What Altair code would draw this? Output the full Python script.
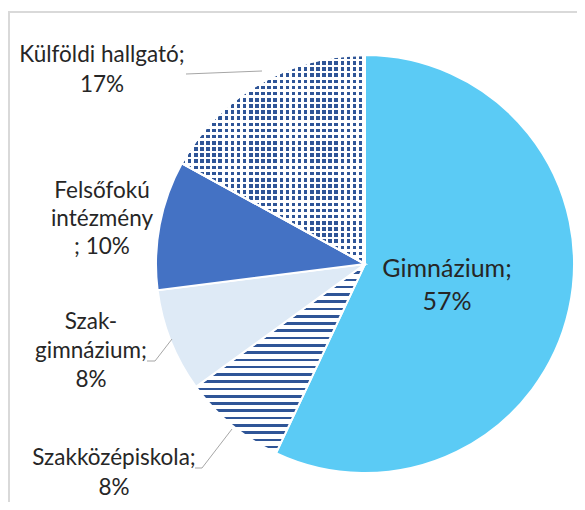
import altair as alt
import pandas as pd

# ---------------- data ----------------
categories = ["Gimnázium", "Szakközépiskola", "Szakgimnázium",
              "Felsőfokú intézmény", "Külföldi hallgató"]
shares = [57, 8, 8, 10, 17]
label_lines = [
    ["Gimnázium;", "57%"],
    ["Szakközépiskola;", "8%"],
    ["Szak-", "gimnázium;", "8%"],
    ["Felsőfokú", "intézmény", "; 10%"],
    ["Külföldi hallgató;", "17%"],
]

# ---------------- style / layout ----------------
colors = ["#5BCBF5", "#FFFFFF", "#DEEAF6", "#4472C4", "#FFFFFF"]
PATTERN_BLUE = "#2F5597"
CX, CY, R = 357, 256, 209
W, H = 569, 494
FONT = "Lato"
TEXT_COLOR = "#262626"

label_style = {  # (x, first baseline, font size, line height) in chart px
    "Gimnázium": (439, 269, 25, 33),
    "Szakközépiskola": (106, 457, 22.5, 30),
    "Szakgimnázium": (83, 321, 22.5, 29),
    "Felsőfokú intézmény": (94, 190, 22.5, 28),
    "Külföldi hallgató": (94, 54, 22.5, 30),
}
leaders = [  # annotation leader segments (chart px)
    (178, 66, 254, 63),
    (139, 353, 147, 353), (147, 353, 164, 331),
    (187, 460, 194, 460), (194, 460, 224, 421),
]


def bars(n, frac, on, off, vertical=True):
    """Hard-stop linear gradient: n periods, 'on' colour for first frac of each."""
    stops = []
    for i in range(n):
        a = i / n
        b = (i + frac) / n
        c = (i + 1) / n
        stops += [{"offset": a, "color": on}, {"offset": b, "color": on},
                  {"offset": b, "color": off}, {"offset": c, "color": off}]
    g = {"gradient": "linear", "stops": stops, "x1": 0, "y1": 0}
    if vertical:
        g.update({"x2": 0, "y2": 1})
    else:
        g.update({"x2": 1, "y2": 0})
    return g


stripe_grad = bars(26, 0.36, PATTERN_BLUE, "#FFFFFF", vertical=True)
row_grad = bars(34, 0.58, PATTERN_BLUE, "#FFFFFF", vertical=True)
col_grad = bars(30, 0.58, "rgba(255,255,255,0)", "#FFFFFF", vertical=False)

df = pd.DataFrame({"cat": categories, "share": shares,
                   "idx": list(range(len(categories)))})

pie_enc = dict(
    theta=alt.Theta("share:Q", stack=True),
    order=alt.Order("idx:Q", sort="ascending"),
    x=alt.value(CX),
    y=alt.value(CY),
)

base = alt.Chart(df).mark_arc(outerRadius=R, stroke="white", strokeWidth=2).encode(
    fill=alt.Fill(
        "cat:N",
        scale=alt.Scale(domain=categories, range=colors),
        legend=None,
        condition=[
            {"test": "datum.cat === 'Szakközépiskola'", "value": stripe_grad},
            {"test": "datum.cat === 'Külföldi hallgató'", "value": row_grad},
        ],
    ),
    **pie_enc,
)

overlay = alt.Chart(df).mark_arc(outerRadius=R, stroke="white", strokeWidth=2).encode(
    fill=alt.condition("datum.cat === 'Külföldi hallgató'",
                       alt.value(col_grad), alt.value("transparent")),
    strokeOpacity=alt.condition("datum.cat === 'Külföldi hallgató'",
                                alt.value(1), alt.value(0)),
    **pie_enc,
)

label_layers = []
for cat, lines in zip(categories, label_lines):
    lx, ly, fs, lh = label_style[cat]
    d = pd.DataFrame({"text": ["\n".join(lines)], "lx": [lx], "ly": [ly]})
    label_layers.append(
        alt.Chart(d).mark_text(
            font=FONT, fontSize=fs, color=TEXT_COLOR, align="center",
            baseline="alphabetic", lineBreak="\n", lineHeight=lh,
        ).encode(
            x=alt.X("lx:Q", scale=None, axis=None),
            y=alt.Y("ly:Q", scale=None, axis=None),
            text="text:N",
        )
    )

lead_df = pd.DataFrame(leaders, columns=["x1", "y1", "x2", "y2"])
lead = alt.Chart(lead_df).mark_rule(color="#A6A6A6", strokeWidth=1).encode(
    x=alt.X("x1:Q", scale=None, axis=None),
    y=alt.Y("y1:Q", scale=None, axis=None),
    x2="x2:Q",
    y2="y2:Q",
)

frame = alt.Chart(pd.DataFrame({"a": [0]})).mark_rect(
    filled=False, stroke="#D9D9D9", strokeWidth=2
).encode(x=alt.value(1), y=alt.value(4), x2=alt.value(W + 50), y2=alt.value(H + 50))

chart = alt.layer(frame, base, overlay, lead, *label_layers).properties(
    width=W, height=H, padding=0, autosize=alt.AutoSizeParams(type="none")
).configure_view(stroke=None)

chart.save("out.html", embed_options={"renderer": "svg", "actions": False})
